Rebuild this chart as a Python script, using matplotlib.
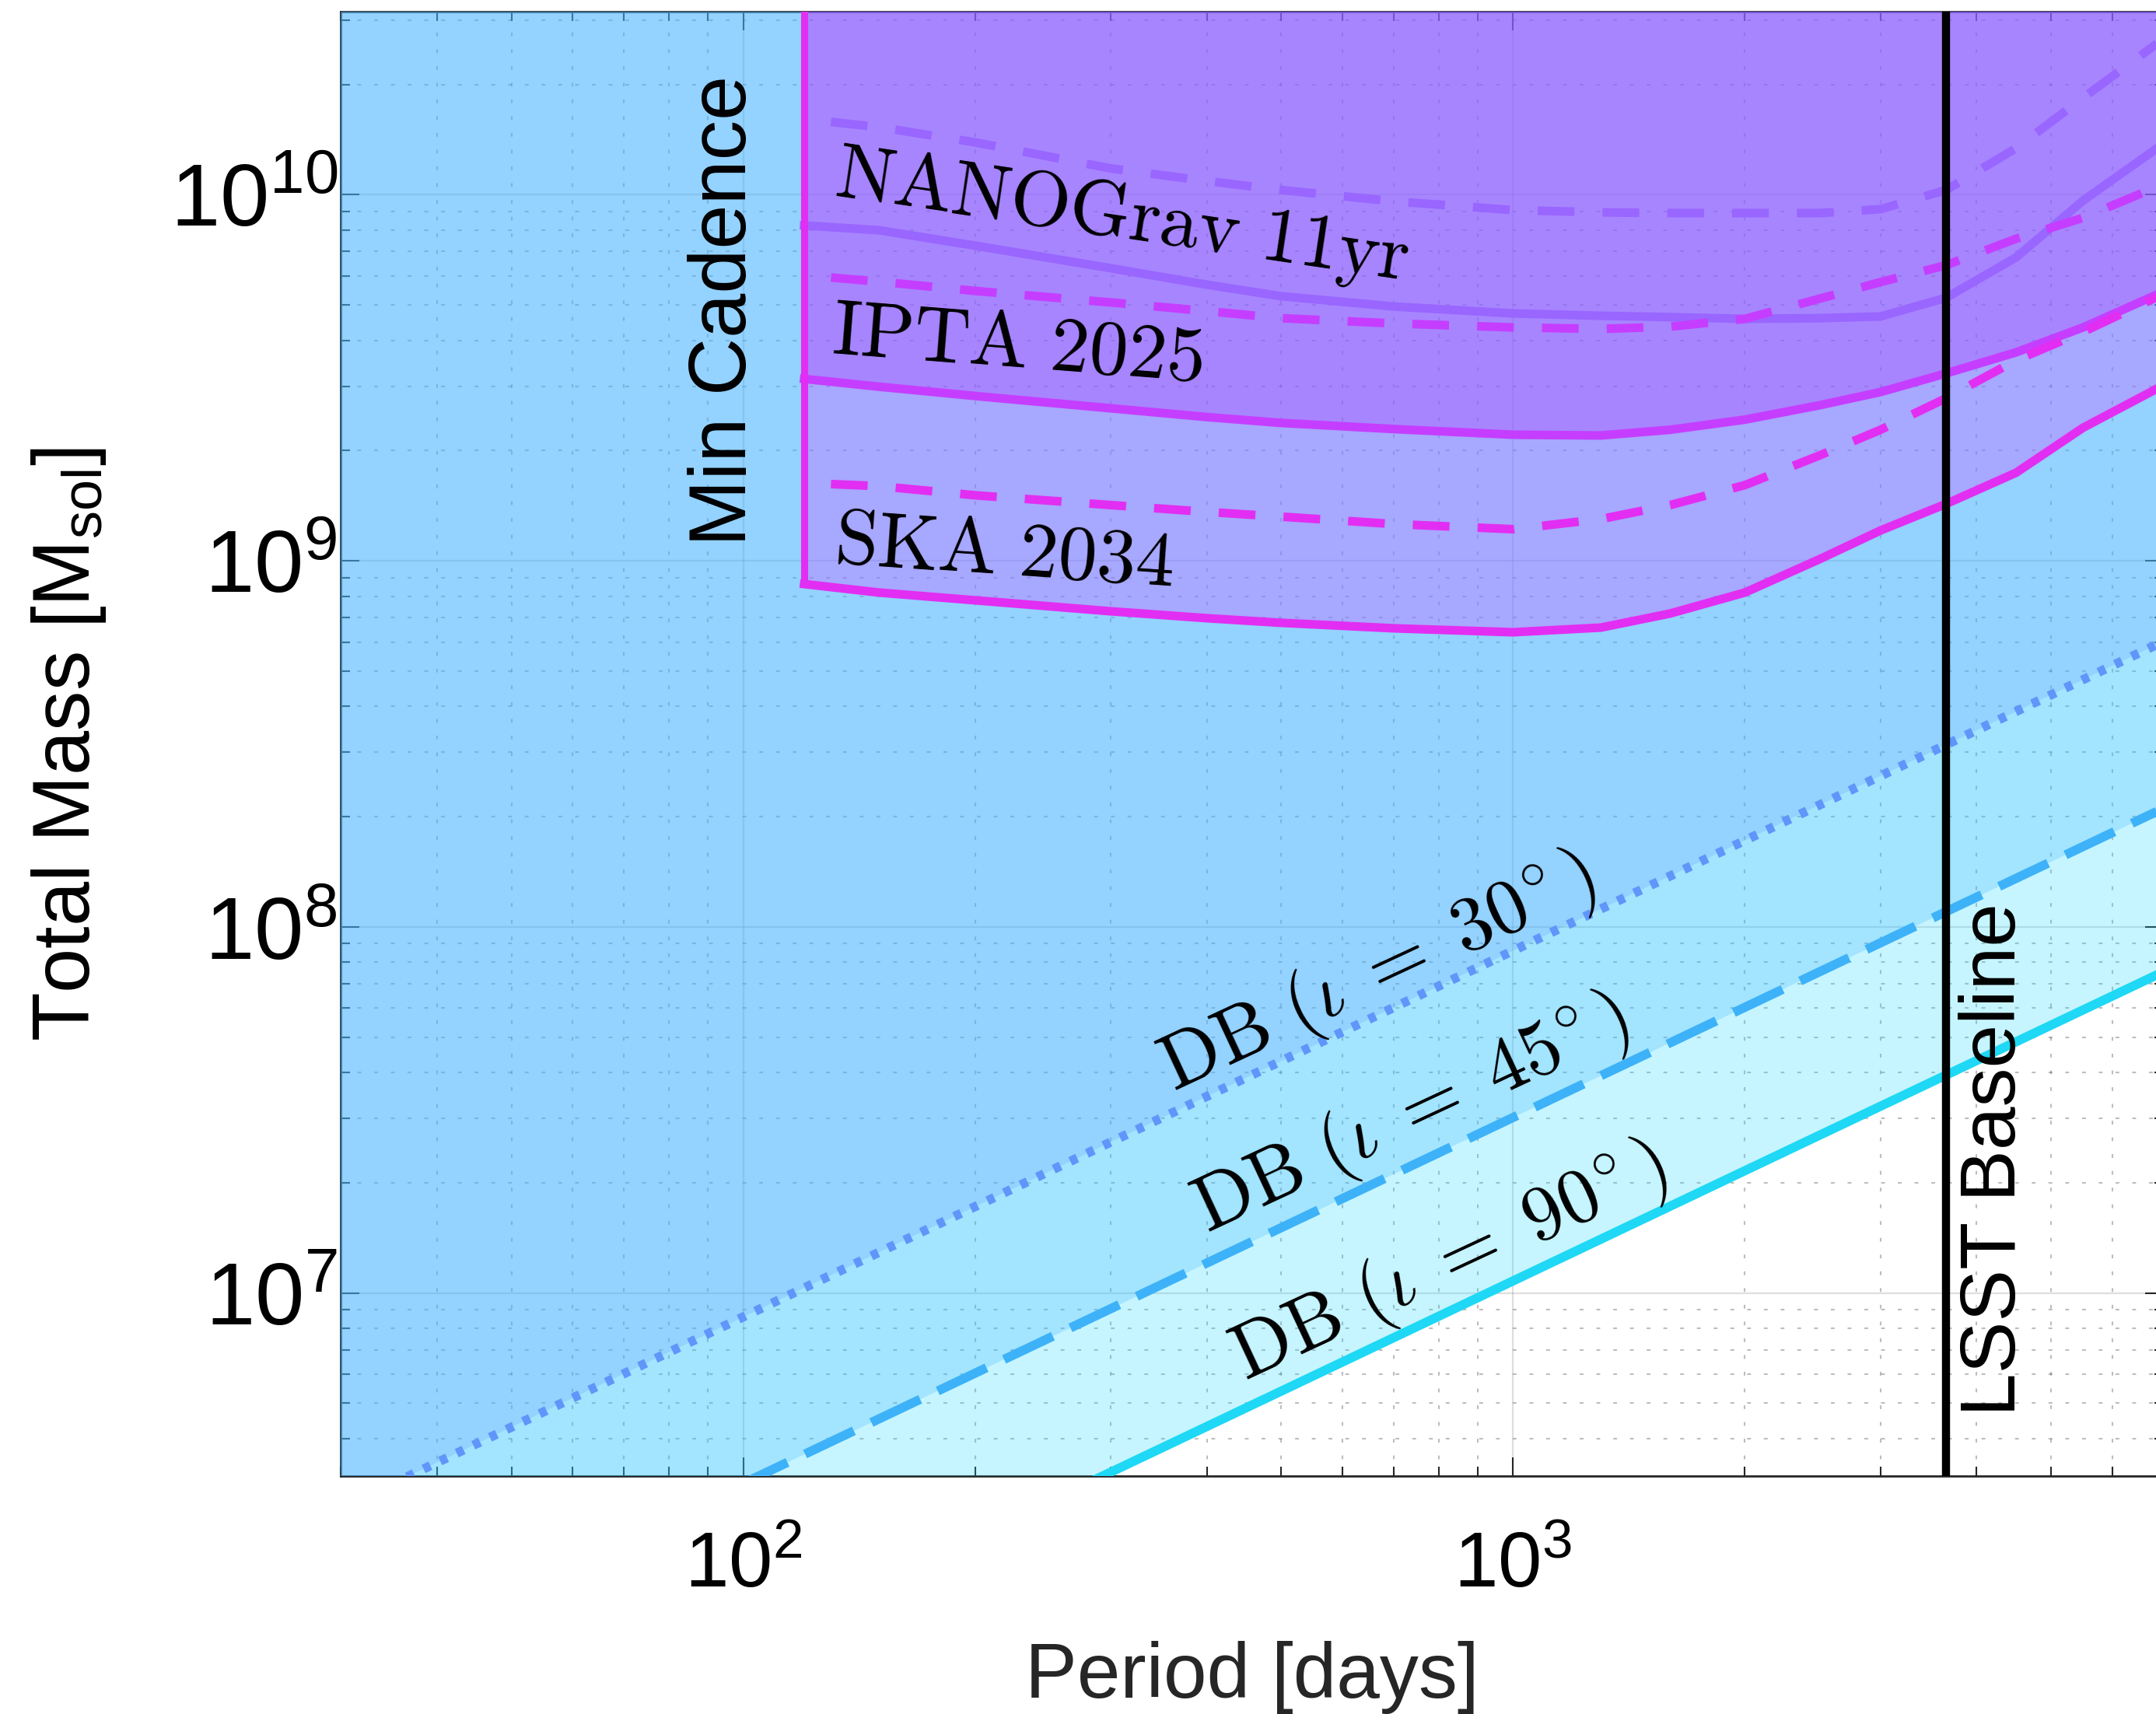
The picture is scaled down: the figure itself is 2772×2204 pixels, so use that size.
import matplotlib
matplotlib.use("Agg")
import matplotlib.pyplot as plt
from matplotlib.ticker import LogLocator, NullFormatter

plt.rcParams.update({
    "font.family": ["Liberation Sans", "DejaVu Sans"],
    "mathtext.fontset": "custom",
    "mathtext.rm": "Liberation Sans",
    "mathtext.it": "Liberation Sans:italic",
    "mathtext.bf": "Liberation Sans:bold",
    "mathtext.sf": "Liberation Sans",
    "lines.scale_dashes": False,
})

# ---------------- data ----------------
# PTA sensitivity curves: total mass [M_sol] vs orbital period [days]
period_solid = [120, 150, 200, 300, 400, 500, 700, 1000, 1300, 1600,
                2000, 2500, 3000, 3650, 4500, 5500, 7000]
period_dashed = [130, 150, 200, 300, 400, 500, 700, 1000, 1300, 1600,
                 2000, 2500, 3000, 3650, 4500, 5500, 7000]

nanograv_dashed = [1.58e10, 1.53e10, 1.39e10, 1.18e10, 1.09e10, 1.03e10, 9.59e9,
                   9.08e9, 8.95e9, 8.91e9, 8.91e9, 8.91e9, 9.13e9, 1.03e10,
                   1.34e10, 1.84e10, 2.67e10]
nanograv_solid = [8.24e9, 8.00e9, 7.26e9, 6.30e9, 5.68e9, 5.28e9, 4.95e9,
                  4.74e9, 4.67e9, 4.63e9, 4.58e9, 4.60e9, 4.65e9, 5.23e9,
                  6.74e9, 9.64e9, 1.38e10]
ipta_dashed = [5.94e9, 5.79e9, 5.46e9, 5.08e9, 4.81e9, 4.60e9, 4.45e9,
               4.34e9, 4.30e9, 4.36e9, 4.58e9, 5.20e9, 5.77e9, 6.42e9,
               7.58e9, 8.65e9, 1.07e10]
ipta_solid = [3.14e9, 2.99e9, 2.82e9, 2.61e9, 2.47e9, 2.38e9, 2.29e9,
              2.21e9, 2.20e9, 2.28e9, 2.43e9, 2.66e9, 2.89e9, 3.25e9,
              3.71e9, 4.34e9, 5.44e9]
ska_dashed = [1.62e9, 1.60e9, 1.51e9, 1.42e9, 1.36e9, 1.32e9, 1.26e9,
              1.22e9, 1.30e9, 1.42e9, 1.61e9, 1.94e9, 2.28e9, 2.78e9,
              3.53e9, 4.22e9, 5.36e9]
ska_solid = [8.64e8, 8.19e8, 7.80e8, 7.28e8, 6.97e8, 6.77e8, 6.54e8,
             6.38e8, 6.57e8, 7.18e8, 8.19e8, 1.01e9, 1.21e9, 1.43e9,
             1.74e9, 2.31e9, 3.02e9]

# Doppler-boost detectability limits (straight lines in log-log)
db_period = [30, 7000]
db30_mass = [2.58e6, 6.03e8]
db45_mass = [9.06e5, 2.11e8]
db90_mass = [3.24e5, 7.55e7]

min_cadence_days = 120
lsst_baseline_days = 3652.5

x_limits = (30, 7000)
y_limits = (10 ** 6.5, 10 ** 10.5)
x_ticks = [1e2, 1e3]
y_ticks = [1e7, 1e8, 1e9, 1e10]

# ---------------- styling ----------------
C_NANO = "#9966FF"
C_IPTA = "#C53EFF"
C_SKA = "#E22EF2"
C_DB30 = "#5F96FA"
C_DB45 = "#3DB2F8"
C_DB90 = "#1ED8F5"
F_DB30 = "#69A0FF"
F_DB45 = "#3DB2FF"
F_DB90 = "#1ED8FF"
F_SKA = "#E22EFF"
F_IPTA = "#A81EFF"
AX_C = "#262626"
FILL_ALPHA = 0.25
FILL_TOP = 1e12

W, H = 2772, 2204
fig = plt.figure(figsize=(W / 100, H / 100), dpi=100)
ax = fig.add_axes([438 / W, 1 - 1898 / H, (2782 - 438) / W, (1898 - 15) / H])
ax.set_xscale("log")
ax.set_yscale("log")
ax.set_xlim(*x_limits)
ax.set_ylim(*y_limits)

# shaded regions (semi-transparent, stacked)
ax.fill_between(db_period, db90_mass, FILL_TOP, color=F_DB90, alpha=FILL_ALPHA, lw=0, zorder=1.0)
ax.fill_between(db_period, db45_mass, FILL_TOP, color=F_DB45, alpha=FILL_ALPHA, lw=0, zorder=1.1)
ax.fill_between(db_period, db30_mass, FILL_TOP, color=F_DB30, alpha=FILL_ALPHA, lw=0, zorder=1.2)
ax.fill_between(period_solid, ska_solid, FILL_TOP, color=F_SKA, alpha=FILL_ALPHA, lw=0, zorder=1.3)
ax.fill_between(period_solid, ipta_solid, FILL_TOP, color=F_IPTA, alpha=FILL_ALPHA, lw=0, zorder=1.4)

# Doppler-boost lines
ax.plot(db_period, db30_mass, color=C_DB30, lw=8.5, ls=(0, (7, 10)), zorder=3)
ax.plot(db_period, db45_mass, color=C_DB45, lw=8.5, ls=(0, (50, 18)), zorder=3)
ax.plot(db_period, db90_mass, color=C_DB90, lw=8.5, ls="-", zorder=3)

# PTA curves
dash = (0, (34, 26))
pta_lw = 8
ax.plot(period_dashed, nanograv_dashed, color=C_NANO, lw=pta_lw, ls=dash, zorder=3)
ax.plot(period_solid, nanograv_solid, color=C_NANO, lw=pta_lw, zorder=3)
ax.plot(period_dashed, ipta_dashed, color=C_IPTA, lw=pta_lw, ls=dash, zorder=3)
ax.plot(period_solid, ipta_solid, color=C_IPTA, lw=pta_lw, zorder=3)
ax.plot(period_dashed, ska_dashed, color=C_SKA, lw=pta_lw, ls=dash, zorder=3)
ax.plot(period_solid, ska_solid, color=C_SKA, lw=pta_lw, zorder=3)

# minimum cadence edge and LSST baseline
ax.plot([min_cadence_days, min_cadence_days], [ska_solid[0], FILL_TOP],
        color=C_SKA, lw=6.5, zorder=3, solid_capstyle="butt")
ax.axvline(lsst_baseline_days, color="black", lw=7.5, zorder=4)

# text annotations
ax.text(106, 4.83e9, "Min Cadence", rotation=90, ha="right", va="center",
        fontsize=74, zorder=5)
ax.text(3788, 4.61e6, "LSST Baseline", rotation=90, ha="left", va="bottom",
        fontsize=72, zorder=5)

pta_kw = dict(ha="left", va="baseline", rotation_mode="anchor",
              math_fontfamily="cm", fontsize=72, zorder=5)
ax.text(131, 1.0e10, r"$\mathrm{NANOGrav\ 11yr}$", rotation=-8.5, **pta_kw)
ax.text(130, 3.71e9, r"$\mathrm{IPTA\ 2025}$", rotation=-4.5, **pta_kw)
ax.text(131, 9.9e8, r"$\mathrm{SKA\ 2034}$", rotation=-4, **pta_kw)

db_kw = dict(ha="left", va="baseline", rotation=25, rotation_mode="anchor",
             math_fontfamily="cm", fontsize=72, zorder=5)
ax.text(362, 3.57e7, r"$\mathrm{DB}\ (\iota\;=\;30^{\!\circ})$", **db_kw)
ax.text(400, 1.47e7, r"$\mathrm{DB}\ (\iota\;=\;45^{\!\circ})$", **db_kw)
ax.text(448, 5.8e6, r"$\mathrm{DB}\ (\iota\;=\;90^{\!\circ})$", **db_kw)

# axes, ticks, grid
ax.set_axisbelow(True)
for sp in ax.spines.values():
    sp.set_color(AX_C)
    sp.set_linewidth(2)
    sp.set_zorder(0.6)

ax.set_xticks(x_ticks)
ax.set_yticks(y_ticks)
ax.xaxis.set_minor_locator(LogLocator(base=10, subs=range(2, 10), numticks=50))
ax.yaxis.set_minor_locator(LogLocator(base=10, subs=range(2, 10), numticks=50))
ax.xaxis.set_minor_formatter(NullFormatter())
ax.yaxis.set_minor_formatter(NullFormatter())

ax.tick_params(which="both", direction="in", top=True, right=True,
               color=AX_C, width=1.5, labelcolor="black")
ax.tick_params(which="major", length=17)
ax.tick_params(which="minor", length=8.5)
ax.tick_params(axis="x", which="major", labelsize=73, pad=51)
ax.tick_params(axis="y", which="major", labelsize=82, pad=3)

ax.grid(True, which="major", color=AX_C, alpha=0.15, lw=1.5)
ax.grid(True, which="minor", color=AX_C, alpha=0.3, lw=1.5, ls=(0, (3.5, 12)))

ax.set_xlabel("Period [days]", fontsize=72, color="#262626")
ax.xaxis.set_label_coords(0.5, -0.1125)
ax.set_ylabel(r"Total Mass [M$_{\mathrm{sol}}$]", fontsize=74, color="black")
ax.yaxis.set_label_coords(-0.1275, 0.5)

fig.savefig("out.png", dpi=100)
